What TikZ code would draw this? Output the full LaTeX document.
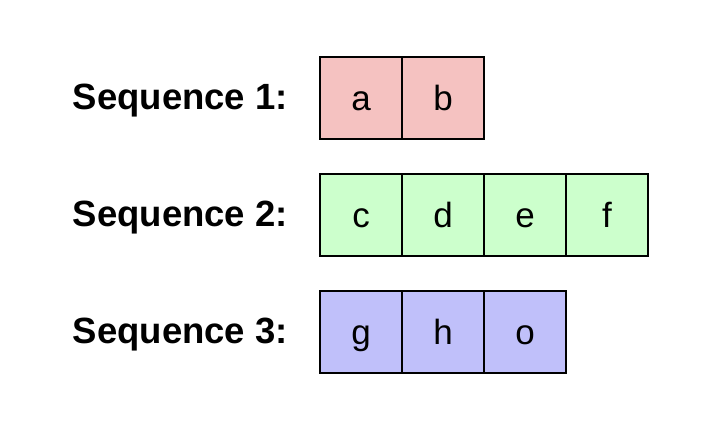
\documentclass[tikz,border=0pt]{standalone}
\usepackage{fontspec}
\setmainfont{Liberation Sans}
\definecolor{pinkc}{HTML}{F5C2C1}
\definecolor{greenc}{HTML}{CCFFCC}
\definecolor{bluec}{HTML}{C0C0FA}
\begin{document}
\begin{tikzpicture}[x=1pt,y=-1pt,
  cell/.style={draw=black,line width=1.8pt,minimum width=82pt,minimum height=82pt,inner sep=0pt,outer sep=0pt,text height=25.4pt,text depth=0pt,font=\fontsize{35}{40}\selectfont},
  seqlabel/.style={anchor=base east,inner sep=0pt,font=\fontsize{36.5}{42}\selectfont\bfseries}]
\useasboundingbox (0,0) rectangle (724,424);
\fill[white] (0,0) rectangle (724,424);
\node[seqlabel] (l1) at (288,109) {Sequence 1:};
\node[seqlabel] (l2) at (288,226) {Sequence 2:};
\node[seqlabel] (l3) at (288,343) {Sequence 3:};
\node[cell,fill=pinkc] (a) at (361,98) {a};
\node[cell,fill=pinkc] (b) at (443,98) {b};
\node[cell,fill=greenc] (c) at (361,215) {c};
\node[cell,fill=greenc] (d) at (443,215) {d};
\node[cell,fill=greenc] (e) at (525,215) {e};
\node[cell,fill=greenc] (f) at (607,215) {f};
\node[cell,fill=bluec] (g) at (361,332) {g};
\node[cell,fill=bluec] (h) at (443,332) {h};
\node[cell,fill=bluec] (o) at (525,332) {o};
\end{tikzpicture}
\end{document}
